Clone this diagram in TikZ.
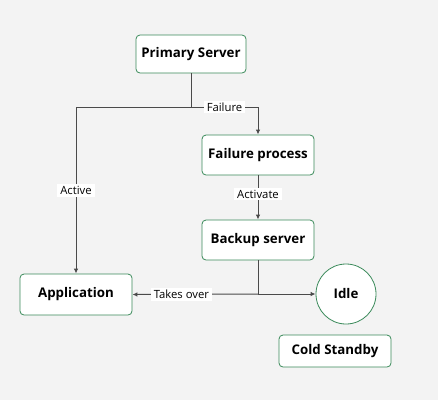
\documentclass[tikz,border=0pt]{standalone}
\usepackage{fontspec}
\setmainfont{Open Sans}
\usetikzlibrary{arrows.meta}
\definecolor{bg}{HTML}{F3F3F3}
\definecolor{gborder}{HTML}{3A8A5A}
\definecolor{edge}{HTML}{4A4A4A}
\tikzset{
  box/.style={draw=gborder, fill=white, rounded corners=4pt, line width=0.8pt, minimum width=110pt, minimum height=38pt, font=\fontsize{13.3}{15}\selectfont\bfseries, inner sep=0pt},
  circ/.style={draw=gborder, fill=white, circle, line width=0.8pt, minimum size=60pt, font=\fontsize{13.3}{15}\selectfont\bfseries, inner sep=0pt},
  conn/.style={draw=edge, line width=1pt},
  arr/.style={conn, -{Latex[length=5pt,width=4.5pt]}},
  lbl/.style={fill=white, font=\fontsize{11.3}{13}\selectfont, inner xsep=3pt, inner ysep=2pt, text=black}
}
\begin{document}
\begin{tikzpicture}[x=1pt,y=-1pt]
\fill[bg] (0,0) rectangle (438,400);
\useasboundingbox (0,0) rectangle (438,400);
\node[box] (ps) at (191,54) {Primary Server};
\node[box, minimum width=112pt, minimum height=40pt] (fp) at (258,155) {Failure process};
\node[box, minimum width=112pt, minimum height=40pt] (bs) at (258,240) {Backup server};
\node[box, minimum width=112pt, minimum height=41pt] (app) at (76,294.5) {Application};
\node[circ] (idle) at (346,294) {Idle};
\node[box, minimum width=112pt, minimum height=32pt] (cs) at (335,351) {Cold Standby};
\coordinate (j1) at (191,107);
\coordinate (j2) at (258,294);
\draw[conn] (ps.south) -- (j1);
\draw[arr] (j1) -| node[lbl, pos=0.25] {Failure} (fp.north);
\draw[arr] (j1) -| node[lbl, pos=0.75] {Active} (app.north);
\draw[arr] (fp) -- node[lbl, pos=0.42] {Activate} (bs);
\draw[conn] (bs.south) -- (j2);
\draw[arr] (j2) -- node[lbl, pos=0.61] {Takes over} (app.east);
\draw[arr] (j2) -- (idle.west);
\end{tikzpicture}
\end{document}
